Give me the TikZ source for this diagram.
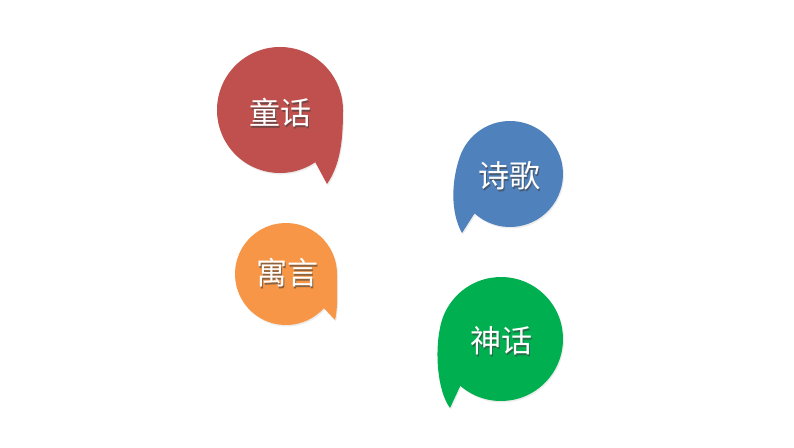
\documentclass[tikz,border=0pt]{standalone}
\usepackage{fontspec}
\newfontfamily\cjk{Noto Sans CJK SC}
\usetikzlibrary{shadows,calc}
\definecolor{cred}{HTML}{C0504D}
\definecolor{cblue}{HTML}{4F81BD}
\definecolor{corange}{HTML}{F79646}
\definecolor{cgreen}{HTML}{00B050}
\tikzset{
  bubble/.style={draw=none, drop shadow={opacity=0.15, shadow xshift=1pt, shadow yshift=-1.5pt}},
  lbl/.style={text=white, font=\cjk\fontsize{31}{31}\selectfont, inner sep=0pt},
  lblshadow/.style={text=black!75, opacity=0.6, font=\cjk\fontsize{31}{31}\selectfont, inner sep=0pt}
}
\begin{document}
\begin{tikzpicture}[x=1pt,y=-1pt]
\fill[white] (0,0) rectangle (794,447);
\useasboundingbox (0,0) rectangle (794,447);
% red
\coordinate (rc) at (280,110);
\coordinate (rt) at (327,184);
\fill[cred, bubble] ($(rc)+(56:63)$) arc[start angle=56, end angle=360, radius=63]
  .. controls (343,142) and (340,165) .. (rt) -- cycle;
% blue
\coordinate (bc) at (510,174);
\coordinate (bt) at (462,233);
\fill[cblue, bubble] ($(bc)+(132:53)$) arc[start angle=132, end angle=-160, radius=53]
  .. controls (451.5,179.5) and (450,212) .. (bt) -- cycle;
% orange
\coordinate (oc) at (286,274);
\coordinate (ot) at (335,320);
\fill[corange, bubble] ($(oc)+(42:51)$) arc[start angle=42, end angle=360, radius=51]
  .. controls (337,292) and (338,308) .. (ot) -- cycle;
% green
\coordinate (gc) at (501,339);
\coordinate (gt) at (450,408);
\fill[cgreen, bubble] ($(gc)+(131:62)$) arc[start angle=131, end angle=-170, radius=62]
  .. controls (435,352) and (437,390) .. (gt) -- cycle;
% labels
\node[lblshadow] at (281.5,114.5) {童话};
\node[lbl] (tonghua) at (280,113) {童话};
\node[lblshadow] at (510.5,177.5) {诗歌};
\node[lbl] (shige) at (509,176) {诗歌};
\node[lblshadow] at (288.5,274.5) {寓言};
\node[lbl] (yuyan) at (287,273) {寓言};
\node[lblshadow] at (502.5,342.5) {神话};
\node[lbl] (shenhua) at (501,341) {神话};
\end{tikzpicture}
\end{document}
